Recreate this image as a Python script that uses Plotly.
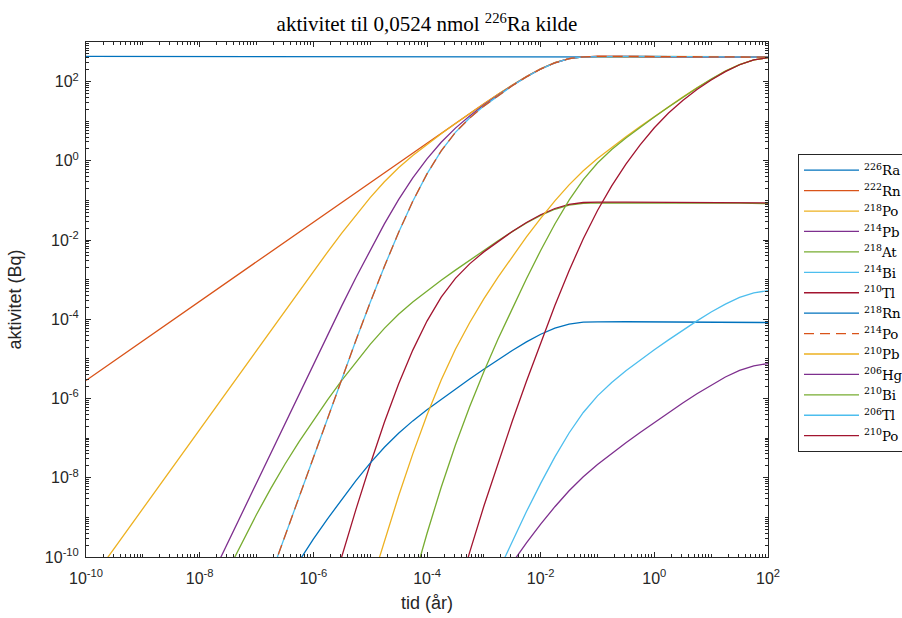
import plotly.graph_objects as go

# ---- data: sample times as log10(tid / år), activities in Bq ----
ra_logt = [-10, -1, 0, 0.5, 1, 1.25, 1.5, 1.75, 2]
ra_bq = [433.3, 433.3, 433.1, 432.7, 431.4, 430.0, 427.4, 422.9, 414.9]

rn222_logt = [-10, -9, -8, -7, -6, -5, -4.5, -4, -3.75, -3.5, -3.25, -3, -2.75, -2.5, -2.25, -2,
              -1.75, -1.5, -1.25, -1, -0.75, -0.5, 0, 0.5, 1, 1.25, 1.5, 1.75, 2]
rn222_bq = [2.867e-6, 2.867e-5, 2.867e-4, 2.867e-3, 0.02867, 0.2868, 0.9063, 2.858, 5.072, 8.97,
            15.84, 27.74, 48.13, 81.8, 134.7, 209.7, 299.8, 379.6, 422.8, 432.7, 433.2, 433.2,
            433.1, 432.7, 431.4, 430.0, 427.4, 422.9, 414.9]

po218_logt = [-10, -9.5, -9, -8, -7, -6.75, -6.5, -6.25, -6, -5.75, -5.5, -5.25, -5, -4.75, -4.5,
              -4.25, -4, -3.75, -3.5, -3.25, -3, -2.75, -2.5, -2.25, -2, -1.75, -1.5, -1.25, -1,
              -0.5, 0, 1, 1.5, 2]
po218_bq = [1.686e-11, 1.686e-10, 1.686e-9, 1.686e-7, 1.683e-5, 5.297e-5, 1.666e-4, 5.219e-4,
            1.623e-3, 4.981e-3, 0.01497, 0.04329, 0.1182, 0.2963, 0.6689, 1.366, 2.615, 4.828,
            8.73, 15.60, 27.51, 47.91, 81.64, 134.5, 209.7, 299.7, 379.6, 422.8, 432.7, 433.2,
            433.1, 431.4, 427.4, 414.9]

pb214_logt = [-8, -7.75, -7.5, -7.25, -7, -6.75, -6.5, -6.25, -6, -5.75, -5.5, -5.25, -5, -4.75,
              -4.5, -4.25, -4, -3.75, -3.5, -3.25, -3, -2.75, -2.5, -2.25, -2, -1.75, -1.5,
              -1.25, -1, -0.5, 0, 1, 1.5, 2]
pb214_bq = [7.65e-12, 4.30e-11, 2.41e-10, 1.358e-9, 7.62e-9, 4.277e-8, 2.394e-7, 1.335e-6,
            7.404e-6, 4.061e-5, 2.186e-4, 1.139e-3, 5.636e-3, 0.02571, 0.1046, 0.3694, 1.125,
            2.949, 6.70, 13.57, 25.55, 46.03, 79.94, 133.07, 208.6, 299.1, 379.6, 422.8, 432.7,
            433.2, 433.1, 431.4, 427.4, 414.9]

at218_logt = [-7.5, -7.25, -7, -6.75, -6.5, -6.25, -6, -5.75, -5.5, -5.25, -5, -4.75, -4.5,
              -4.25, -4, -3.75, -3.5, -3.25, -3, -2.75, -2.5, -2.25, -2, -1.75, -1.5, -1.25, -1,
              -0.5, 0, 1, 1.5, 2]
at218_bq = [4.64e-11, 2.404e-10, 1.182e-9, 5.339e-9, 2.198e-8, 8.20e-8, 2.834e-7, 9.219e-7,
            2.870e-6, 8.469e-6, 2.337e-5, 5.891e-5, 1.334e-4, 2.729e-4, 5.23e-4, 9.655e-4,
            1.746e-3, 3.120e-3, 5.502e-3, 9.582e-3, 0.01633, 0.02691, 0.04194, 0.05995, 0.07592,
            0.08456, 0.08654, 0.08665, 0.08662, 0.08628, 0.08548, 0.08299]

bi214_logt = [-7, -6.75, -6.5, -6.25, -6, -5.75, -5.5, -5.25, -5, -4.75, -4.5, -4.25, -4, -3.75,
              -3.5, -3.25, -3, -2.75, -2.5, -2.25, -2, -1.75, -1.5, -1.25, -1, -0.5, 0, 1, 1.5, 2]
bi214_bq = [3.503e-12, 3.486e-11, 3.47e-10, 3.445e-9, 3.400e-8, 3.323e-7, 3.192e-6, 2.976e-5,
            2.646e-4, 2.165e-3, 0.01561, 0.09526, 0.4699, 1.794, 5.231, 12.05, 24.08, 44.63,
            78.66, 131.99, 207.8, 298.6, 379.4, 422.7, 432.6, 433.2, 433.1, 431.4, 427.4, 414.9]

tl210_logt = [-5.75, -5.5, -5.25, -5, -4.75, -4.5, -4.25, -4, -3.75, -3.5, -3.25, -3, -2.75,
              -2.5, -2.25, -2, -1.75, -1.5, -1.25, -1, -0.5, 0, 1, 1.5, 2]
tl210_bq = [6.5e-12, 1.049e-10, 1.597e-9, 2.17e-8, 2.518e-7, 2.34e-6, 1.669e-5, 9.03e-5,
            3.613e-4, 1.0775e-3, 2.509e-3, 5.036e-3, 9.354e-3, 0.016502, 0.027718, 0.043638,
            0.062706, 0.079674, 0.088746, 0.090846, 0.09097, 0.090951, 0.090594, 0.08975,
            0.087129]

rn218_logt = [-6.5, -6.25, -6, -5.75, -5.5, -5.25, -5, -4.75, -4.5, -4.25, -4, -3.75, -3.5,
              -3.25, -3, -2.75, -2.5, -2.25, -2, -1.75, -1.5, -1.25, -1, -0.5, 0, 1, 1.5, 2]
rn218_bq = [2.198e-11, 8.20e-11, 2.834e-10, 9.219e-10, 2.870e-9, 8.469e-9, 2.337e-8, 5.891e-8,
            1.334e-7, 2.729e-7, 5.23e-7, 9.655e-7, 1.746e-6, 3.120e-6, 5.502e-6, 9.582e-6,
            1.633e-5, 2.691e-5, 4.194e-5, 5.995e-5, 7.592e-5, 8.456e-5, 8.654e-5, 8.665e-5,
            8.662e-5, 8.628e-5, 8.548e-5, 8.299e-5]

po214_logt = [-7, -6.75, -6.5, -6.25, -6, -5.75, -5.5, -5.25, -5, -4.75, -4.5, -4.25, -4, -3.75,
              -3.5, -3.25, -3, -2.75, -2.5, -2.25, -2, -1.75, -1.5, -1.25, -1, -0.5, 0, 1, 1.5, 2]
po214_bq = [3.502e-12, 3.485e-11, 3.469e-10, 3.444e-9, 3.399e-8, 3.322e-7, 3.191e-6, 2.975e-5,
            2.645e-4, 2.165e-3, 0.01561, 0.09524, 0.4698, 1.794, 5.230, 12.05, 24.07, 44.62,
            78.64, 131.96, 207.8, 298.5, 379.3, 422.6, 432.5, 433.1, 433.0, 431.3, 427.3, 414.8]

pb210_logt = [-5, -4.75, -4.5, -4.25, -4, -3.75, -3.5, -3.25, -3, -2.75, -2.5, -2.25, -2, -1.75,
              -1.5, -1.25, -1, -0.75, -0.5, -0.25, 0, 0.25, 0.5, 0.75, 1, 1.25, 1.5, 1.75, 2]
pb210_bq = [1.725e-11, 2.579e-10, 3.464e-9, 4.012e-8, 3.847e-7, 2.938e-6, 1.752e-5, 8.18e-5,
            3.28e-4, 1.1645e-3, 3.840e-3, 0.011989, 0.035454, 0.097923, 0.24705, 0.55959, 1.1452,
            2.1941, 4.0529, 7.3388, 13.115, 23.198, 40.526, 69.52, 115.79, 183.72, 269.64,
            352.85, 401.40]

hg206_logt = [-2.75, -2.5, -2.25, -2, -1.75, -1.5, -1.25, -1, -0.75, -0.5, -0.25, 0, 0.25, 0.5,
              0.75, 1, 1.25, 1.5, 1.75, 2]
hg206_bq = [2.21e-11, 7.295e-11, 2.278e-10, 6.736e-10, 1.8605e-9, 4.694e-9, 1.0632e-8, 2.1759e-8,
            4.169e-8, 7.700e-8, 1.3944e-7, 2.4919e-7, 4.408e-7, 7.700e-7, 1.3209e-6, 2.200e-6,
            3.491e-6, 5.123e-6, 6.704e-6, 7.627e-6]

bi210_logt = [-4.25, -4, -3.75, -3.5, -3.25, -3, -2.75, -2.5, -2.25, -2, -1.75, -1.5, -1.25, -1,
              -0.75, -0.5, -0.25, 0, 0.25, 0.5, 0.75, 1, 1.25, 1.5, 1.75, 2]
bi210_bq = [2.164e-11, 3.929e-10, 5.776e-9, 6.730e-8, 6.230e-7, 4.752e-6, 3.180e-5, 1.9116e-4,
            1.062e-3, 5.4727e-3, 0.025443, 0.102318, 0.3369, 0.8844, 1.927, 3.7876, 7.0754,
            12.857, 22.945, 40.284, 69.295, 115.60, 183.57, 269.54, 352.81, 401.38]

tl206_logt = [-2.75, -2.5, -2.25, -2, -1.75, -1.5, -1.25, -1, -0.75, -0.5, -0.25, 0, 0.25, 0.5,
              0.75, 1, 1.25, 1.5, 1.75, 2]
tl206_bq = [4.198e-11, 2.523e-10, 1.4018e-9, 7.224e-9, 3.3585e-8, 1.3506e-7, 4.4471e-7,
            1.1674e-6, 2.5436e-6, 4.9996e-6, 9.3395e-6, 1.6971e-5, 3.0287e-5, 5.3175e-5,
            9.1469e-5, 1.5259e-4, 2.4231e-4, 3.5579e-4, 4.6571e-4, 5.2982e-4]

po210_logt = [-3.5, -3.25, -3, -2.75, -2.5, -2.25, -2, -1.75, -1.5, -1.25, -1, -0.75, -0.5, -0.25,
              0, 0.25, 0.5, 0.75, 1, 1.25, 1.5, 1.75, 2]
po210_bq = [7.369e-12, 1.311e-10, 1.909e-9, 2.394e-8, 2.675e-7, 2.730e-6, 2.582e-5, 2.227e-4,
            1.692e-3, 0.010802, 0.055792, 0.2326, 0.8255, 2.535, 6.85, 16.133, 33.485, 63.0,
            110.17, 179.33, 266.83, 351.61, 401.16]

names = ["<sup>226</sup>Ra", "<sup>222</sup>Rn", "<sup>218</sup>Po", "<sup>214</sup>Pb",
         "<sup>218</sup>At", "<sup>214</sup>Bi", "<sup>210</sup>Tl", "<sup>218</sup>Rn",
         "<sup>214</sup>Po", "<sup>210</sup>Pb", "<sup>206</sup>Hg", "<sup>210</sup>Bi",
         "<sup>206</sup>Tl", "<sup>210</sup>Po"]
logts = [ra_logt, rn222_logt, po218_logt, pb214_logt, at218_logt, bi214_logt, tl210_logt,
         rn218_logt, po214_logt, pb210_logt, hg206_logt, bi210_logt, tl206_logt, po210_logt]
values = [ra_bq, rn222_bq, po218_bq, pb214_bq, at218_bq, bi214_bq, tl210_bq,
          rn218_bq, po214_bq, pb210_bq, hg206_bq, bi210_bq, tl206_bq, po210_bq]

palette = ["#0072BD", "#D95319", "#EDB120", "#7E2F8E", "#77AC30", "#4DBEEE", "#A2142F"]

# tick labels
x_tick_exp = [-10, -8, -6, -4, -2, 0, 2]
y_tick_exp = [-10, -8, -6, -4, -2, 0, 2]

fig = go.Figure()
for i, (nm, lt, v) in enumerate(zip(names, logts, values)):
    dash = "10px,6px" if i == 8 else "solid"
    fig.add_trace(go.Scatter(
        x=[10 ** e for e in lt], y=v, mode="lines", name=nm,
        line=dict(color=palette[i % 7], width=1.3, dash=dash),
    ))

sans = "Liberation Sans, Arial, sans-serif"
serif = "Liberation Serif, Times New Roman, serif"
legend_serif = "DejaVu Serif, Liberation Serif, serif"

axis_common = dict(
    type="log", showline=True, linecolor="#262626", linewidth=1, mirror="allticks",
    ticks="inside", ticklen=5, tickwidth=1, tickcolor="#262626",
    showgrid=False, zeroline=False,
    tickfont=dict(family=sans, size=16, color="#262626"),
    minor=dict(ticks="inside", ticklen=3, tickcolor="#262626", dtick="D1", showgrid=False),
)

W_FIG = 960
fig.update_layout(
    width=W_FIG, height=618, autosize=False,
    margin=dict(l=86, r=W_FIG - 86 - 682, t=42, b=618 - 42 - 515, pad=0, autoexpand=False),
    paper_bgcolor="white", plot_bgcolor="white",
    title=dict(text="aktivitet til 0,0524 nmol <sup>226</sup>Ra kilde",
               x=0.5, xref="paper", xanchor="center",
               y=1 - 24 / 618, yref="container", yanchor="middle",
               font=dict(family=serif, size=21, color="#000000")),
    xaxis=dict(axis_common, range=[-10, 2],
               tickvals=[10.0 ** e for e in x_tick_exp],
               ticktext=["10<sup>%d</sup>" % e for e in x_tick_exp],
               ticklabelstandoff=7,
               title=dict(text="tid (år)", font=dict(family=sans, size=18, color="#262626"),
                          standoff=10)),
    yaxis=dict(axis_common, range=[-10, 3],
               tickvals=[10.0 ** e for e in y_tick_exp],
               ticktext=["10<sup>%d</sup>" % e for e in y_tick_exp],
               ticklabelstandoff=3,
               title=dict(text="aktivitet (Bq)", font=dict(family=sans, size=18, color="#262626"),
                          standoff=18)),
    legend=dict(x=(798 - 86) / 682, y=(557 - 154) / 515, xanchor="left", yanchor="top",
                bgcolor="white", bordercolor="#262626", borderwidth=1,
                font=dict(family=legend_serif, size=13.4, color="#000000"),
                itemwidth=55, tracegroupgap=0),
    showlegend=True,
)

fig.write_html(
    "out.html",
    config={"displayModeBar": False},
    post_script="document.body.style.margin='0';document.body.style.overflow='hidden';"
                "document.documentElement.style.overflow='hidden';",
)
